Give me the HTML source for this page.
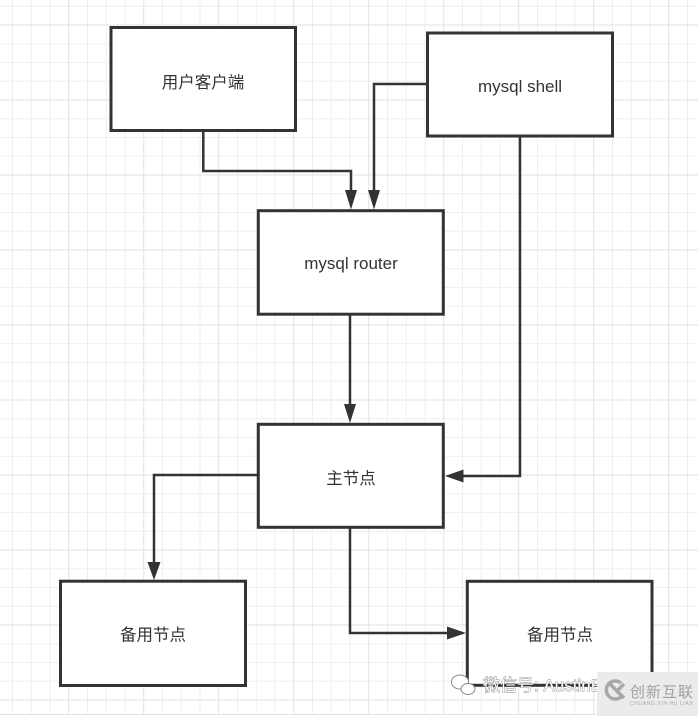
<!DOCTYPE html>
<html>
<head>
<meta charset="utf-8">
<style>
  html, body { margin: 0; padding: 0; background: #fff; }
  body { width: 698px; height: 716px; overflow: hidden; }
  svg { display: block; }
  .cjk { font-family: "Liberation Sans", "Noto Sans CJK SC", "WenQuanYi Zen Hei", sans-serif; }
  .lat { font-family: "Liberation Sans", "DejaVu Sans", sans-serif; }
</style>
</head>
<body>
<svg width="698" height="716" viewBox="0 0 698 716" xmlns="http://www.w3.org/2000/svg">
  <rect x="0" y="0" width="698" height="716" fill="#ffffff"/>
  <!-- minor grid -->
  <path stroke="#efefef" stroke-width="1" fill="none" d="
    M12.5 0V714 M31.25 0V714 M50 0V714 M87.5 0V714 M106.25 0V714 M125 0V714
    M162.5 0V714 M181.25 0V714 M200 0V714 M237.5 0V714 M256.25 0V714 M275 0V714
    M312.5 0V714 M331.25 0V714 M350 0V714 M387.5 0V714 M406.25 0V714 M425 0V714
    M462.5 0V714 M481.25 0V714 M500 0V714 M537.5 0V714 M556.25 0V714 M575 0V714
    M612.5 0V714 M631.25 0V714 M650 0V714 M687.5 0V714
    M0 6.25H698 M0 43.75H698 M0 62.5H698 M0 81.25H698 M0 118.75H698 M0 137.5H698
    M0 156.25H698 M0 193.75H698 M0 212.5H698 M0 231.25H698 M0 268.75H698 M0 287.5H698
    M0 306.25H698 M0 343.75H698 M0 362.5H698 M0 381.25H698 M0 418.75H698 M0 437.5H698
    M0 456.25H698 M0 493.75H698 M0 512.5H698 M0 531.25H698 M0 568.75H698 M0 587.5H698
    M0 606.25H698 M0 643.75H698 M0 662.5H698 M0 681.25H698"/>
  <!-- major grid -->
  <path stroke="#e2e2e2" stroke-width="1" fill="none" d="
    M68.75 0V714 M143.75 0V714 M218.75 0V714 M293.75 0V714 M368.75 0V714
    M443.75 0V714 M518.75 0V714 M593.75 0V714 M668.75 0V714
    M0 25H698 M0 100H698 M0 175H698 M0 250H698 M0 325H698 M0 400H698
    M0 475H698 M0 550H698 M0 625H698 M0 700H698 M0 714.5H698"/>

  <!-- connectors -->
  <g stroke="#333333" stroke-width="2.5" fill="none" stroke-linejoin="miter">
    <polyline points="203.3,131 203.3,171 351,171 351,192"/>
    <polyline points="427,84 374,84 374,192"/>
    <polyline points="520,137 520,476 462,476"/>
    <polyline points="350,314 350,405"/>
    <polyline points="258,475 154,475 154,563"/>
    <polyline points="350,527 350,633 448,633"/>
  </g>
  <!-- arrowheads -->
  <g fill="#333333" stroke="none">
    <polygon points="345,190 357,190 351,209.5"/>
    <polygon points="368,190 380,190 374,209.5"/>
    <polygon points="344,404 356,404 350,423"/>
    <polygon points="445,476 463.5,469.5 463.5,482.5"/>
    <polygon points="147.5,562 160.5,562 154,580"/>
    <polygon points="447,626.5 447,639.5 466,633"/>
  </g>

  <!-- boxes -->
  <g stroke="#333333" stroke-width="3" fill="#ffffff">
    <rect x="111" y="27.5" width="184.5" height="103"/>
    <rect x="427.5" y="33" width="185" height="103"/>
    <rect x="258.3" y="210.7" width="185" height="103.5"/>
    <rect x="258.3" y="424.3" width="185" height="103"/>
    <rect x="60.5" y="581.2" width="185" height="104.3"/>
    <rect x="467.3" y="581.3" width="184.7" height="104"/>
  </g>

  <!-- labels -->
  <g fill="#333333" text-anchor="middle">
    <text class="cjk" x="203" y="88" font-size="16.5">用户客户端</text>
    <text class="lat" x="520" y="92" font-size="17">mysql shell</text>
    <text class="lat" x="351" y="269" font-size="17">mysql router</text>
    <text class="cjk" x="351" y="484" font-size="16.5">主节点</text>
    <text class="cjk" x="153" y="640.5" font-size="16.5">备用节点</text>
    <text class="cjk" x="560" y="640.5" font-size="16.5">备用节点</text>
  </g>

  <!-- watermark: wechat -->
  <g fill="#ffffff" stroke="#888888" stroke-width="1">
    <ellipse cx="460" cy="682" rx="8.5" ry="7"/>
    <ellipse cx="468" cy="689" rx="7" ry="5.5"/>
  </g>
  <text class="cjk" x="483" y="691" font-size="17" fill="#ffffff" stroke="#6a6a6a" stroke-width="0.7" paint-order="stroke">微信号: AustinE</text>

  <!-- watermark: logo box -->
  <rect x="597" y="672" width="101" height="44" fill="#ebebeb"/>
  <g fill="none" stroke="#a8a8a8" stroke-width="3.5">
    <path d="M621 683 A9 9 0 1 0 621 697"/>
    <path d="M610 684 L624 698 M624 684 L617 691"/>
  </g>
  <text class="cjk" x="630" y="697" font-size="15" fill="#a0a0a0" textLength="63">创新互联</text>
  <text class="lat" x="630" y="705" font-size="5" fill="#a8a8a8" textLength="63">CHUANG XIN HU LIAN</text>
</svg>
</body>
</html>
